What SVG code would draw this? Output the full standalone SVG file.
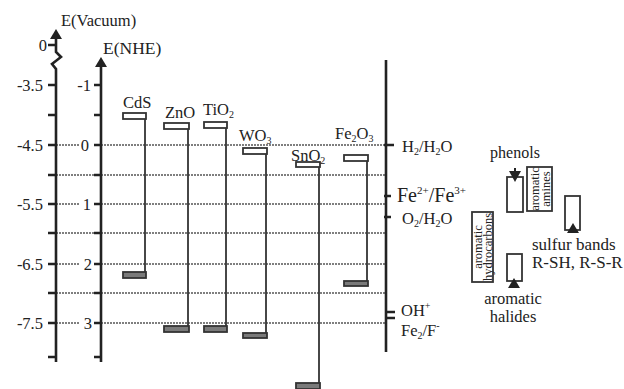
<svg xmlns="http://www.w3.org/2000/svg" width="624" height="389" viewBox="0 0 624 389" font-family="'Liberation Serif', 'Times New Roman', 'DejaVu Serif', serif">
<style>
text{font-family:'Liberation Serif','Times New Roman','DejaVu Serif',serif;fill:#222;}
.ax{stroke:#222;stroke-width:2.6;fill:none;}
.tk{stroke:#222;stroke-width:2.6;}
.dot{stroke:#555;stroke-width:1.6;stroke-dasharray:2 1;fill:none;}
.cb{fill:#fff;stroke:#333;stroke-width:1.8;}
.vb{fill:#7a7a7a;stroke:#333;stroke-width:1.8;}
.bl{stroke:#333;stroke-width:1.8;fill:none;}
.box{fill:#fff;stroke:#333;stroke-width:1.8;}
.lb{font-size:16.5px;}
.ax-l{font-size:16.5px;text-anchor:end;}
.rot{font-size:12.5px;text-anchor:middle;}
.sub{font-size:10px;}
</style>
<rect width="624" height="389" fill="#fff"/>

<g id="gridlines">
<path class="dot" d="M56,145 H79 M101,145 H385"/>
<path class="dot" d="M56,175 H385"/>
<path class="dot" d="M56,204 H79 M101,204 H385"/>
<path class="dot" d="M56,233 H385"/>
<path class="dot" d="M56,264 H79 M101,264 H385"/>
<path class="dot" d="M56,293 H385"/>
<path class="dot" d="M56,323 H79 M101,323 H385"/>
</g>

<g id="axis-vacuum">
<path class="ax" d="M56,38 V52 L61,57 L52,64 L56,69 V362"/>
<polygon points="56,29 62,39 50,39" fill="#222"/>
<path class="tk" d="M48,45 H56 M48,85 H56 M48,115 H56 M48,145 H56 M48,175 H56 M48,204 H56 M48,233 H56 M48,264 H56 M48,293 H56 M48,323 H56 M48,357 H56"/>
<text x="61" y="26" font-size="16.5">E(Vacuum)</text>
<text class="ax-l" x="47" y="51">0</text>
<text class="ax-l" x="43" y="91">-3.5</text>
<text class="ax-l" x="43" y="151">-4.5</text>
<text class="ax-l" x="43" y="210">-5.5</text>
<text class="ax-l" x="43" y="270">-6.5</text>
<text class="ax-l" x="43" y="329">-7.5</text>
</g>

<g id="axis-nhe">
<path class="ax" d="M101,66 V362"/>
<polygon points="101,57 107,67 95,67" fill="#222"/>
<path class="tk" d="M94,85 H101 M94,115 H101 M94,145 H101 M94,175 H101 M94,204 H101 M94,233 H101 M94,264 H101 M94,293 H101 M94,323 H101 M94,357 H101"/>
<text x="103" y="54" font-size="17.5">E(NHE)</text>
<text class="ax-l" x="91" y="91">-1</text>
<text class="ax-l" x="89" y="151">0</text>
<text class="ax-l" x="91" y="210">1</text>
<text class="ax-l" x="92" y="270">2</text>
<text class="ax-l" x="92" y="329">3</text>
</g>

<g id="axis-redox">
<path class="ax" d="M386,60 V352"/>
<path class="tk" d="M384,145 H394 M384,196 H391 M384,217 H391 M386,312 H395 M386,318 H395"/>
<text x="402" y="152" class="lb">H<tspan class="sub" dy="3">2</tspan><tspan dy="-3">/H</tspan><tspan class="sub" dy="3">2</tspan><tspan dy="-3">O</tspan></text>
<text x="397" y="202" font-size="20">Fe<tspan font-size="11" dy="-8">2+</tspan><tspan dy="8">/Fe</tspan><tspan font-size="11" dy="-8">3+</tspan></text>
<text x="402" y="224" class="lb">O<tspan class="sub" dy="3">2</tspan><tspan dy="-3">/H</tspan><tspan class="sub" dy="3">2</tspan><tspan dy="-3">O</tspan></text>
<text x="401" y="316" class="lb">OH<tspan class="sub" dy="-7">+</tspan></text>
<text x="401" y="336" class="lb">Fe<tspan class="sub" dy="3">2</tspan><tspan dy="-3">/F</tspan><tspan class="sub" dy="-7">-</tspan></text>
</g>

<g id="connectors">
<path class="bl" d="M145,115 V276"/>
<path class="bl" d="M188,125 V330"/>
<path class="bl" d="M226,124 V330"/>
<path class="bl" d="M266,150 V336"/>
<path class="bl" d="M319,164 V387"/>
<path class="bl" d="M367,157 V285"/>
</g>

<g id="CdS">
<rect class="cb" x="123" y="113" width="23" height="6"/>
<rect class="vb" x="123" y="272" width="23" height="6"/>
<text class="lb" x="123" y="108">CdS</text>
</g>
<g id="ZnO">
<rect class="cb" x="164" y="123" width="25" height="6"/>
<rect class="vb" x="164" y="326" width="25" height="6"/>
<text class="lb" x="165" y="118">ZnO</text>
</g>
<g id="TiO2">
<rect class="cb" x="204" y="122" width="23" height="6"/>
<rect class="vb" x="204" y="326" width="23" height="6"/>
<text class="lb" x="203" y="115">TiO<tspan class="sub" dy="3">2</tspan></text>
</g>
<g id="WO3">
<rect class="cb" x="243" y="148" width="24" height="6"/>
<rect class="vb" x="243" y="333" width="24" height="5"/>
<text class="lb" x="239" y="141">WO<tspan class="sub" dy="3">3</tspan></text>
</g>
<g id="SnO2">
<rect class="cb" x="296" y="162" width="24" height="5"/>
<rect class="vb" x="296" y="383" width="24" height="6"/>
<text class="lb" x="291" y="161">SnO<tspan class="sub" dy="3">2</tspan></text>
</g>
<g id="Fe2O3">
<rect class="cb" x="344" y="155" width="24" height="6"/>
<rect class="vb" x="344" y="281" width="24" height="5"/>
<text class="lb" x="335" y="139">Fe<tspan class="sub" dy="3">2</tspan><tspan dy="-3">O</tspan><tspan class="sub" dy="3">3</tspan></text>
</g>

<g id="phenols">
<rect class="box" x="507" y="177" width="16" height="35"/>
<path d="M515,168 V172" stroke="#222" stroke-width="2"/>
<polygon points="509,171 521,171 515,182" fill="#222"/>
<text x="515" y="158" font-size="16" text-anchor="middle">phenols</text>
</g>
<g id="aromatic-amines">
<rect class="box" x="527" y="167" width="25" height="44"/>
<text class="rot" transform="translate(539,189) rotate(-90)">aromatic</text>
<text class="rot" transform="translate(549.5,189) rotate(-90)">amines</text>
</g>
<g id="sulfur-bands">
<rect class="box" x="565" y="196" width="15" height="34"/>
<polygon points="567,233 579,233 573,223" fill="#222"/>
<text x="532" y="250" font-size="17">sulfur bands</text>
<text x="532" y="268" font-size="17">R-SH, R-S-R</text>
</g>
<g id="aromatic-hydrocarbons">
<rect class="box" x="472" y="212" width="21" height="70"/>
<text class="rot" transform="translate(482,247) rotate(-90)">aromatic</text>
<text class="rot" transform="translate(492,247) rotate(-90)">hydrocarbons</text>
</g>
<g id="aromatic-halides">
<rect class="box" x="507" y="254" width="15" height="27"/>
<polygon points="508,288 520,288 514,278" fill="#222"/>
<text x="513" y="304" font-size="16.5" text-anchor="middle">aromatic</text>
<text x="513" y="322" font-size="16.5" text-anchor="middle">halides</text>
</g>
</svg>
